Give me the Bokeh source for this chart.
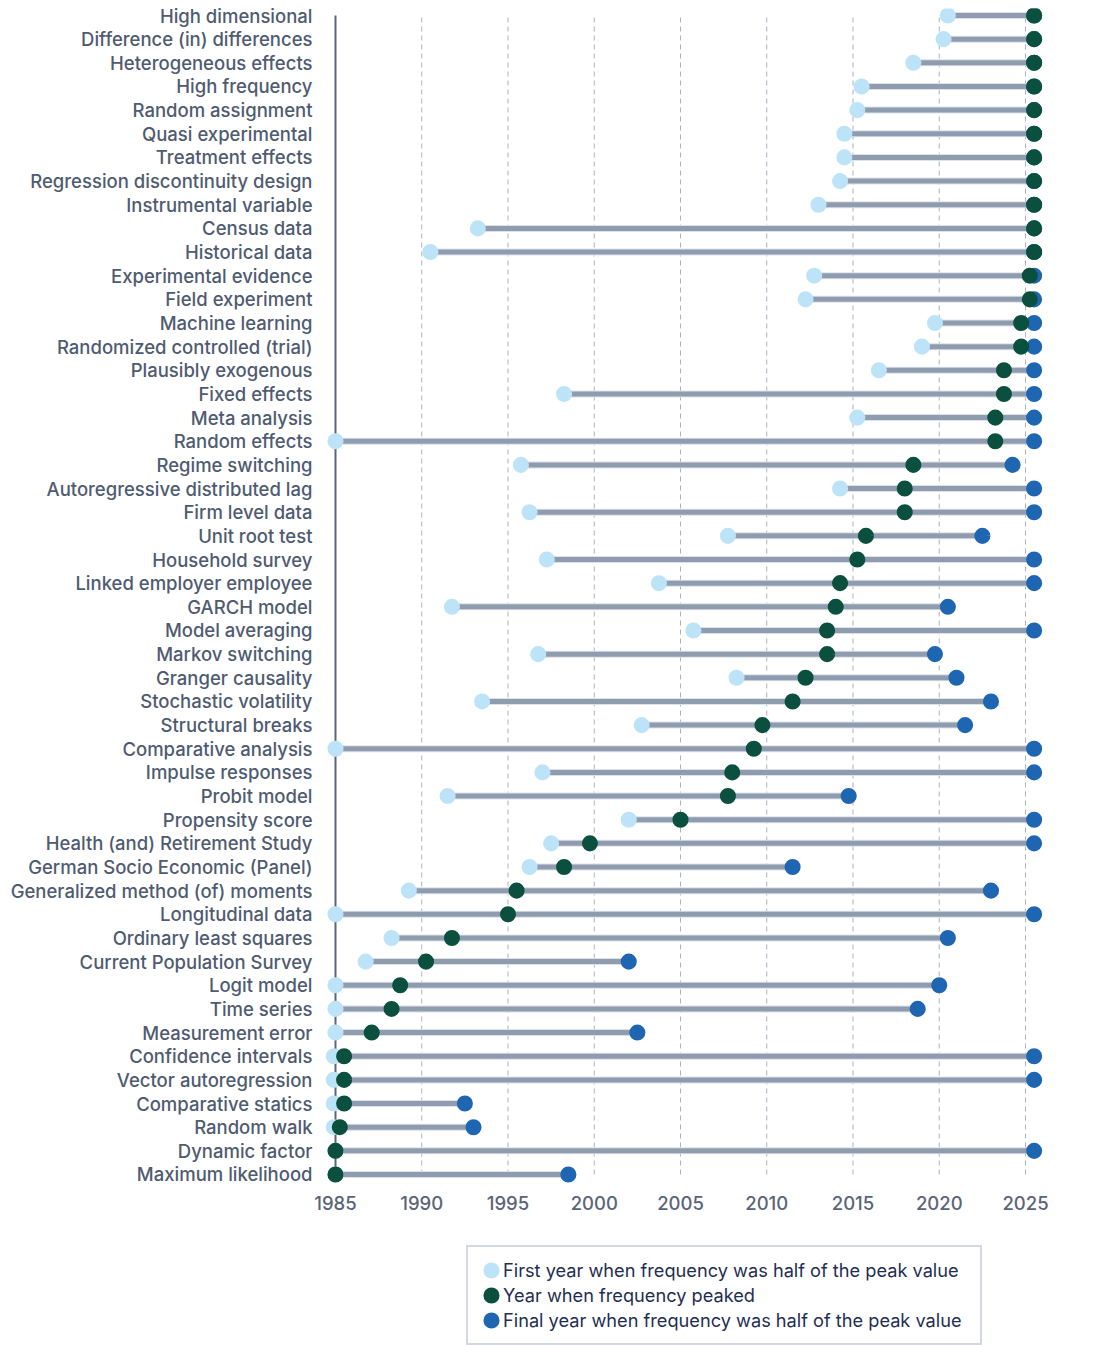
from bokeh.plotting import figure
from bokeh.models import Range1d, FixedTicker, Legend, LegendItem, ColumnDataSource
from bokeh.embed import file_html
from bokeh.resources import INLINE

labels = [
    "High dimensional", "Difference (in) differences", "Heterogeneous effects",
    "High frequency", "Random assignment", "Quasi experimental", "Treatment effects",
    "Regression discontinuity design", "Instrumental variable", "Census data",
    "Historical data", "Experimental evidence", "Field experiment", "Machine learning",
    "Randomized controlled (trial)", "Plausibly exogenous", "Fixed effects",
    "Meta analysis", "Random effects", "Regime switching",
    "Autoregressive distributed lag", "Firm level data", "Unit root test",
    "Household survey", "Linked employer employee", "GARCH model", "Model averaging",
    "Markov switching", "Granger causality", "Stochastic volatility",
    "Structural breaks", "Comparative analysis", "Impulse responses", "Probit model",
    "Propensity score", "Health (and) Retirement Study",
    "German Socio Economic (Panel)", "Generalized method (of) moments",
    "Longitudinal data", "Ordinary least squares", "Current Population Survey",
    "Logit model", "Time series", "Measurement error", "Confidence intervals",
    "Vector autoregression", "Comparative statics", "Random walk", "Dynamic factor",
    "Maximum likelihood",
]

first_year = [
    2020.5, 2020.25, 2018.5, 2015.5, 2015.25, 2014.5, 2014.5, 2014.25, 2013.0, 1993.25,
    1990.5, 2012.75, 2012.25, 2019.75, 2019.0, 2016.5, 1998.25, 2015.25, 1985.0, 1995.75,
    2014.25, 1996.25, 2007.75, 1997.25, 2003.75, 1991.75, 2005.75, 1996.75, 2008.25, 1993.5,
    2002.75, 1985.0, 1997.0, 1991.5, 2002.0, 1997.5, 1996.25, 1989.25, 1985.0, 1988.25,
    1986.75, 1985.0, 1985.0, 1985.0, 1984.9, 1984.9, 1984.9, 1984.9, 1985.0, 1985.0,
]

peak_year = [
    2025.5, 2025.5, 2025.5, 2025.5, 2025.5, 2025.5, 2025.5, 2025.5, 2025.5, 2025.5,
    2025.5, 2025.25, 2025.25, 2024.75, 2024.75, 2023.75, 2023.75, 2023.25, 2023.25, 2018.5,
    2018.0, 2018.0, 2015.75, 2015.25, 2014.25, 2014.0, 2013.5, 2013.5, 2012.25, 2011.5,
    2009.75, 2009.25, 2008.0, 2007.75, 2005.0, 1999.75, 1998.25, 1995.5, 1995.0, 1991.75,
    1990.25, 1988.75, 1988.25, 1987.1, 1985.5, 1985.5, 1985.5, 1985.25, 1985.0, 1985.0,
]

final_year = [
    2025.5, 2025.5, 2025.5, 2025.5, 2025.5, 2025.5, 2025.5, 2025.5, 2025.5, 2025.5,
    2025.5, 2025.5, 2025.5, 2025.5, 2025.5, 2025.5, 2025.5, 2025.5, 2025.5, 2024.25,
    2025.5, 2025.5, 2022.5, 2025.5, 2025.5, 2020.5, 2025.5, 2019.75, 2021.0, 2023.0,
    2021.5, 2025.5, 2025.5, 2014.75, 2025.5, 2025.5, 2011.5, 2023.0, 2025.5, 2020.5,
    2002.0, 2020.0, 2018.75, 2002.5, 2025.5, 2025.5, 1992.5, 1993.0, 2025.5, 1998.5,
]

year_ticks = [1985, 1990, 1995, 2000, 2005, 2010, 2015, 2020, 2025]

legend_labels = [
    "First year when frequency was half of the peak value",
    "Year when frequency peaked",
    "Final year when frequency was half of the peak value",
]

FONT = "'Inter Medium', Inter"
n = len(labels)
ypos = [n - 1 - i for i in range(n)]
line_end = [max(a, b) for a, b in zip(peak_year, final_year)]

src = ColumnDataSource(dict(y=ypos, first=first_year, peak=peak_year,
                            final=final_year, end=line_end, label=labels))

p = figure(frame_width=738, frame_height=1337,
           x_range=Range1d(1983.667, 2026.45), y_range=Range1d(-7.230, 49.296),
           output_backend="svg", toolbar_location=None,
           min_border_left=312, min_border_top=8, min_border_right=0, min_border_bottom=0)
p.outline_line_color = None
p.xgrid.visible = False
p.ygrid.visible = False
p.background_fill_color = "white"
p.border_fill_color = "white"

# dashed grid lines at ticks, spanning first to last row
gx = year_ticks[1:]
p.segment(x0=gx, x1=gx, y0=[min(ypos)] * len(gx), y1=[max(ypos)] * len(gx),
          line_color="#a9b1c1", line_width=1, line_dash="5 4")
# solid baseline at first tick
p.segment(x0=[year_ticks[0]], x1=[year_ticks[0]], y0=[min(ypos)], y1=[max(ypos)],
          line_color="#5b6579", line_width=2)

p.segment(x0="first", x1="end", y0="y", y1="y", source=src,
          line_color="#dde2e9", line_width=7)
p.segment(x0="first", x1="end", y0="y", y1="y", source=src,
          line_color="#8f9cb0", line_width=5)

r_first = p.scatter("first", "y", source=src, size=9.6, fill_color="#bde3f8",
                    line_color="#bde3f8", line_width=6.5)
r_final = p.scatter("final", "y", source=src, size=9.6, fill_color="#1f66b2",
                    line_color="#1f66b2", line_width=6.5)
r_peak = p.scatter("peak", "y", source=src, size=9.6, fill_color="#0b4f3f",
                   line_color="#0b4f3f", line_width=6.5)

yax = p.yaxis[0]
yax.ticker = FixedTicker(ticks=ypos)
yax.major_label_overrides = {y: lab for y, lab in zip(ypos, labels)}
yax.axis_line_color = None
yax.major_tick_line_color = None
yax.minor_tick_line_color = None
yax.major_label_standoff = -6
yax.major_label_text_font = FONT
yax.major_label_text_font_size = "18.5px"
yax.major_label_text_color = "#4f5b71"

xax = p.xaxis[0]
xax.ticker = FixedTicker(ticks=year_ticks)
xax.fixed_location = -0.465
xax.axis_line_color = None
xax.major_tick_line_color = None
xax.minor_tick_line_color = None
xax.major_label_standoff = 5
xax.major_label_text_font = FONT
xax.major_label_text_font_size = "18.5px"
xax.major_label_text_color = "#5a6479"

legend = Legend(
    items=[LegendItem(label=legend_labels[0], renderers=[r_first]),
           LegendItem(label=legend_labels[1], renderers=[r_peak]),
           LegendItem(label=legend_labels[2], renderers=[r_final])],
    location=(154, 0), orientation="vertical",
    glyph_width=24, glyph_height=24, label_height=24, label_standoff=0,
    padding=11, spacing=1, margin=0, label_width=466,
    label_text_font="Inter", label_text_font_size="18.2px", label_text_color="#1f2e52",
    border_line_color="#a5afc2", border_line_width=2,
    background_fill_color="white", background_fill_alpha=1,
)
p.add_layout(legend, "center")

open("out.html", "w").write(file_html(p, INLINE))
